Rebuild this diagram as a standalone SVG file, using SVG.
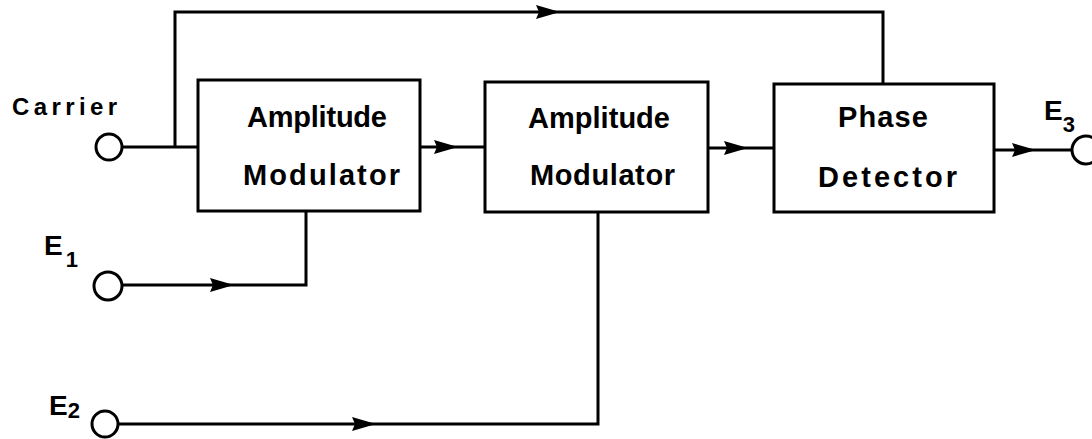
<svg xmlns="http://www.w3.org/2000/svg" width="1092" height="439" viewBox="0 0 1092 439">
<style>
.box{fill:#fff;stroke:#000;stroke-width:3}
.wire{fill:none;stroke:#000;stroke-width:3;stroke-linejoin:miter}
.term{fill:#fff;stroke:#000;stroke-width:3}
.lbl{font-family:"Liberation Sans",Arial,sans-serif;font-weight:bold;fill:#000}
.bt{font-size:29px}
.side{font-size:24px}
.e{font-size:28px}
.sub{font-size:22px}
</style>
<defs>
<path id="ah" d="M0,0 L-24,-7 L-21,0 L-24,7 Z" fill="#000"/>
</defs>
<rect width="1092" height="439" fill="#fff"/>
<g id="connectors">
<path class="wire" d="M122,147 H198"/>
<path class="wire" d="M175,147 V12 H883 V84"/>
<path class="wire" d="M420,147 H485"/>
<path class="wire" d="M708,148 H774"/>
<path class="wire" d="M994,150 H1072"/>
<path class="wire" d="M122,285 H306 V211"/>
<path class="wire" d="M119,424 H598 V211"/>
<use href="#ah" x="560" y="12"/>
<use href="#ah" x="458" y="147"/>
<use href="#ah" x="748" y="148"/>
<use href="#ah" x="1036" y="150"/>
<use href="#ah" x="234" y="285"/>
<use href="#ah" x="376" y="424"/>
</g>
<g id="carrier">
<circle class="term" cx="109" cy="147" r="13"/>
<text class="lbl side" x="12" y="115" textLength="105" lengthAdjust="spacing">Carrier</text>
</g>
<g id="e1">
<circle class="term" cx="108" cy="286" r="14"/>
<text class="lbl e" x="44" y="255">E<tspan class="sub" dy="12" dx="3">1</tspan></text>
</g>
<g id="e2">
<circle class="term" cx="105" cy="424" r="13"/>
<text class="lbl e" x="49" y="415">E<tspan class="sub" dy="3" dx="0">2</tspan></text>
</g>
<g id="e3">
<circle class="term" cx="1086" cy="150" r="14"/>
<text class="lbl e" x="1044" y="120">E<tspan class="sub" dy="12" dx="0">3</tspan></text>
</g>
<g id="am1">
<rect class="box" x="198" y="80" width="222" height="131"/>
<text class="lbl bt" x="247" y="127" textLength="140" lengthAdjust="spacing">Amplitude</text>
<text class="lbl bt" x="243" y="185" textLength="157" lengthAdjust="spacing">Modulator</text>
</g>
<g id="am2">
<rect class="box" x="485" y="82" width="223" height="130"/>
<text class="lbl bt" x="528" y="128" textLength="142" lengthAdjust="spacing">Amplitude</text>
<text class="lbl bt" x="530" y="185" textLength="145" lengthAdjust="spacing">Modulator</text>
</g>
<g id="pd">
<rect class="box" x="774" y="84" width="220" height="128"/>
<text class="lbl bt" x="838" y="127" textLength="90" lengthAdjust="spacing">Phase</text>
<text class="lbl bt" x="818" y="187" textLength="139" lengthAdjust="spacing">Detector</text>
</g>
</svg>
